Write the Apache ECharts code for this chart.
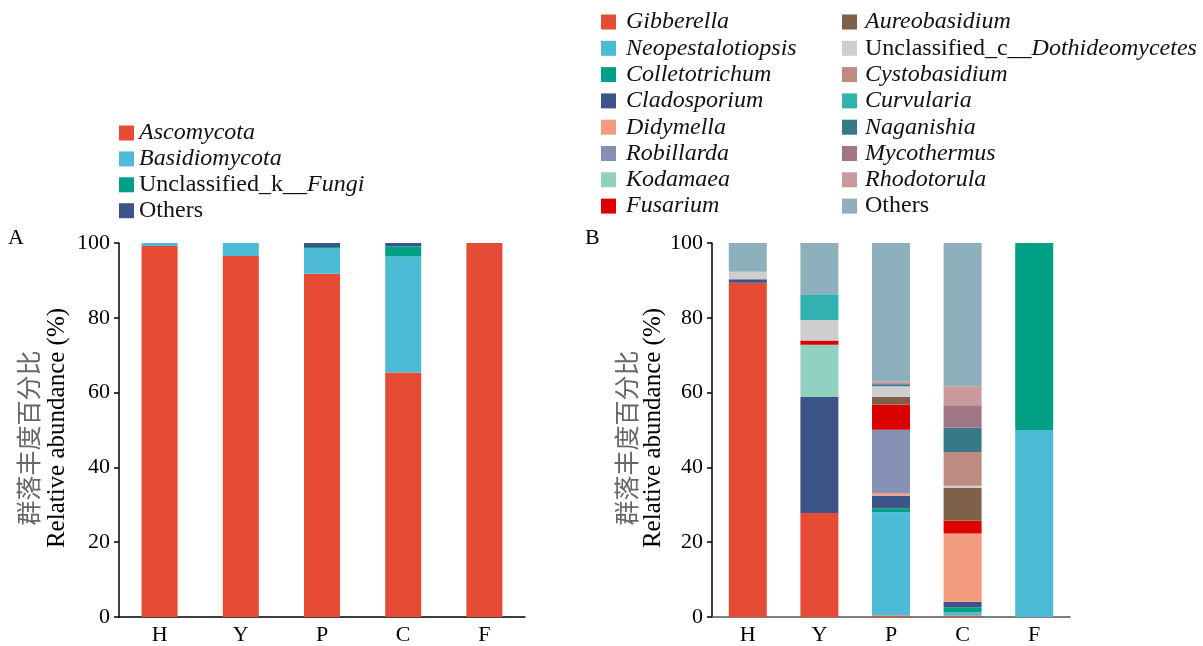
<!DOCTYPE html>
<html>
<head>
<meta charset="utf-8">
<script src="https://cdn.jsdelivr.net/npm/echarts@6/dist/echarts.min.js"></script>
<style>html,body{margin:0;padding:0;background:#fff}#c{width:1203px;height:646px}</style>
</head>
<body>
<div id="c"></div>
<script>
// ---- Data ----
const categories = ['H', 'Y', 'P', 'C', 'F'];
const yTicks = [0, 20, 40, 60, 80, 100];

// Panel A (phylum)
const phylumNames = ['Ascomycota', 'Basidiomycota', 'Unclassified_k__Fungi', 'Others'];
const ascomycota    = [99.2, 96.5, 91.8, 65.4, 100];
const basidiomycota = [0.8, 3.5, 6.7, 31.0, 0];
const unclassifiedK = [0, 0, 0.4, 2.7, 0];
const othersA       = [0, 0, 1.1, 0.9, 0];

// Panel B (genus)
const genusNames = ['Gibberella', 'Neopestalotiopsis', 'Colletotrichum', 'Cladosporium', 'Didymella', 'Robillarda', 'Kodamaea', 'Fusarium',
  'Aureobasidium', 'Unclassified_c__Dothideomycetes', 'Cystobasidium', 'Curvularia', 'Naganishia', 'Mycothermus', 'Rhodotorula', 'Others '];
const gibberella        = [89.4, 27.8, 0.4, 0.4, 0];
const neopestalotiopsis = [0, 0, 27.6, 0.9, 50];
const colletotrichum    = [0, 0, 1.1, 1.3, 50];
const cladosporium      = [0.9, 31.0, 3.3, 1.5, 0];
const didymella         = [0, 0, 0.7, 18.2, 0];
const robillarda        = [0, 0, 17.0, 0, 0];
const kodamaea          = [0, 14.0, 0, 0, 0];
const fusarium          = [0, 1.1, 6.7, 3.5, 0];
const aureobasidium     = [0, 0, 2.0, 8.7, 0];
const unclassifiedC     = [2.0, 5.5, 2.9, 0.6, 0];
const cystobasidium     = [0, 0, 0, 9.0, 0];
const curvularia        = [0, 6.9, 0, 0, 0];
const naganishia        = [0, 0, 0.5, 6.5, 0];
const mycothermus       = [0, 0, 0.3, 6.0, 0];
const rhodotorula       = [0, 0, 0.5, 5.1, 0];
const othersB           = [7.7, 13.7, 37.0, 38.3, 0];

// ---- Styles ----
const phylumColors = ['#E64B35', '#4DBBD5', '#00A087', '#3C5488'];
const genusColors = ['#E64B35', '#4DBBD5', '#00A087', '#3C5488', '#F39B7F', '#8491B4', '#91D1C2', '#DC0000',
  '#7E6148', '#CFCFCF', '#BE8A82', '#33B0B0', '#377987', '#A07585', '#C9999C', '#8EB0BC'];
const phylumData = [ascomycota, basidiomycota, unclassifiedK, othersA];
const genusData = [gibberella, neopestalotiopsis, colletotrichum, cladosporium, didymella, robillarda, kodamaea, fusarium,
  aureobasidium, unclassifiedC, cystobasidium, curvularia, naganishia, mycothermus, rhodotorula, othersB];

const SERIF = '"Liberation Serif", "DejaVu Serif", serif';
const CJK = '"Noto Sans CJK SC", sans-serif';
const LF = 24;

function legendFmt(name) {
  if (name === 'Unclassified_k__Fungi') return '{n|Unclassified_k__}{i|Fungi}';
  if (name === 'Unclassified_c__Dothideomycetes') return '{n|Unclassified_c__}{i|Dothideomycetes}';
  if (name.trim() === 'Others') return '{n|Others}';
  return '{i|' + name + '}';
}
function legendText(padLeft) {
  return {
    fontFamily: SERIF, fontSize: LF, color: '#111', lineHeight: 20, padding: [0, 0, 0, padLeft],
    rich: {
      i: { fontFamily: SERIF, fontSize: LF, fontStyle: 'italic', color: '#111', lineHeight: 20 },
      n: { fontFamily: SERIF, fontSize: LF, color: '#111', lineHeight: 20 }
    }
  };
}

function makeX(gridIndex, axisColor) {
  return {
    type: 'category', gridIndex, data: categories,
    axisLine: { lineStyle: { color: axisColor, width: 1.5 } },
    axisTick: { inside: true, length: 6, alignWithLabel: true, lineStyle: { color: '#000', width: 1.5 } },
    axisLabel: { fontFamily: SERIF, fontSize: 22, color: '#000', margin: 7 }
  };
}
function makeY(gridIndex) {
  return {
    type: 'value', gridIndex, min: 0, max: 100, interval: 20,
    splitLine: { show: false },
    axisLine: { show: true, lineStyle: { color: '#000', width: 1.5 } },
    axisTick: { show: true, length: 5, lineStyle: { color: '#000', width: 1.5 } },
    axisLabel: { fontFamily: SERIF, fontSize: 22, color: '#000', margin: 9,
      formatter: v => yTicks.includes(v) ? String(v) : '' }
  };
}

const series = [];
phylumNames.forEach((n, i) => series.push({
  name: n, type: 'bar', stack: 'A', xAxisIndex: 0, yAxisIndex: 0,
  barWidth: 36, data: phylumData[i], itemStyle: { color: phylumColors[i] }
}));
genusNames.forEach((n, i) => series.push({
  name: n, type: 'bar', stack: 'B', xAxisIndex: 1, yAxisIndex: 1,
  barWidth: 38, data: genusData[i], itemStyle: { color: genusColors[i] }
}));

function yTitle(x1, x2) {
  return [
    { type: 'text', x: x1, y: 438, rotation: Math.PI / 2,
      style: { text: '群落丰度百分比', fontFamily: CJK, fontSize: 25, fill: '#666', align: 'center', verticalAlign: 'middle' } },
    { type: 'text', x: x2, y: 428, rotation: Math.PI / 2,
      style: { text: 'Relative abundance (%)', fontFamily: SERIF, fontSize: 25, fill: '#000', align: 'center', verticalAlign: 'middle' } }
  ];
}

const option = {
  animation: false,
  backgroundColor: '#fff',
  grid: [
    { left: 119, right: 678, top: 243, bottom: 27 },
    { left: 712, right: 133, top: 243, bottom: 27 }
  ],
  xAxis: [makeX(0, '#000'), makeX(1, '#555')],
  yAxis: [makeY(0), makeY(1)],
  legend: [
    { orient: 'vertical', left: 119, top: 121, padding: 0, itemGap: 1.9, itemWidth: 15, itemHeight: 15, icon: 'rect',
      data: phylumNames, formatter: legendFmt, textStyle: legendText(0) },
    { orient: 'vertical', left: 601, top: 10, padding: 0, itemGap: 2.3, itemWidth: 15, itemHeight: 15, icon: 'rect',
      data: genusNames.slice(0, 8), formatter: legendFmt, textStyle: legendText(5) },
    { orient: 'vertical', left: 842, top: 10, padding: 0, itemGap: 2.3, itemWidth: 15, itemHeight: 15, icon: 'rect',
      data: genusNames.slice(8), formatter: legendFmt, textStyle: legendText(3) }
  ],
  graphic: [
    { type: 'text', left: 8, top: 227, style: { text: 'A', fontFamily: SERIF, fontSize: 22, fill: '#000' } },
    { type: 'text', left: 585, top: 227, style: { text: 'B', fontFamily: SERIF, fontSize: 22, fill: '#000' } },
    ...yTitle(28, 57),
    ...yTitle(626, 653)
  ],
  series
};

const chart = echarts.init(document.getElementById('c'), null, { renderer: 'canvas' });
chart.setOption(option);
</script>
</body>
</html>
